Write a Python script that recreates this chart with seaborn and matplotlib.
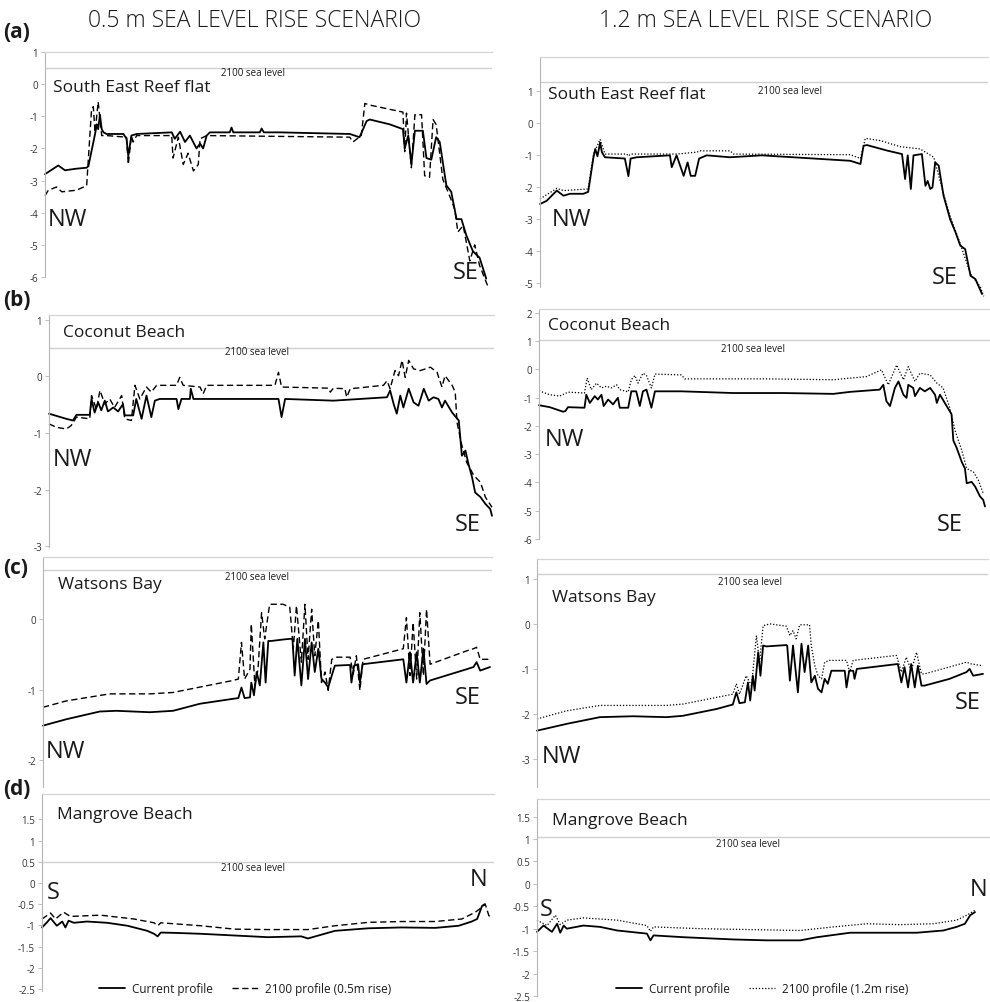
import matplotlib
matplotlib.use("Agg")
import matplotlib.pyplot as plt
import seaborn as sns
import pandas as pd

# Profile elevations (m) against distance along transect (% of transect length)
# (a) South East Reef flat, 0.5 m scenario
AL_CUR_X = [0, 3.0, 4.5, 7.1, 9.4, 9.8, 11.3, 11.7, 12.0, 12.4, 12.8, 13.2, 13.9, 17.7, 18.4, 18.8, 19.5, 20.7,
            28.6, 29.3, 30.5, 31.6, 32.7, 34.2, 35.0, 35.7, 36.5, 37.2, 41.7, 42.1, 42.5, 48.5, 48.9, 49.4, 53.0,
            68.8, 71.0, 72.6, 73.3, 77.8, 80.8, 81.2, 82.0, 82.7, 83.5, 85.3, 86.1, 87.2, 88.3, 89.1,
            90.6, 91.7, 92.9, 94.0, 95.1, 96.6, 98.1, 99.6]
AL_CUR = [-2.8, -2.53, -2.68, -2.63, -2.6, -2.55, -1.55, -1.25, -1.4, -0.95, -1.4, -1.5, -1.55, -1.55, -1.7, -2.24,
          -1.6, -1.55, -1.5, -1.7, -1.48, -1.8, -1.6, -2.0, -1.85, -2.0, -1.6, -1.5, -1.5, -1.35, -1.5, -1.5, -1.38,
          -1.5, -1.5, -1.55, -1.65, -1.15, -1.1, -1.25, -1.4, -2.0, -1.6, -2.5, -1.45, -1.45, -2.3, -2.35, -1.65,
          -1.8, -3.15, -3.35, -4.2, -4.2, -4.7, -5.2, -5.4, -6.05]
AL_FUT_X = [0, 0.75, 2.6, 3.8, 7.1, 9.4, 10.5, 10.9, 11.3, 12.0, 12.8, 13.9, 18.4, 18.8, 19.5, 19.9, 20.7,
            28.6, 28.9, 30.1, 31.2, 32.3, 33.5, 34.6, 35.0, 36.5, 68.8, 69.5, 71.4, 72.2, 73.3,
            80.1, 80.8, 81.2, 81.6, 82.7, 83.5, 85.0, 85.7, 86.8, 87.6, 88.3, 89.8,
            91.7, 92.5, 93.2, 94.4, 95.9, 97.0, 98.1, 100]
AL_FUT = [-3.47, -3.3, -3.2, -3.35, -3.3, -3.16, -0.8, -0.7, -1.5, -0.55, -1.6, -1.6, -1.65, -2.5, -1.6, -1.8, -1.6,
          -1.6, -2.3, -1.65, -2.5, -2.15, -2.7, -2.5, -1.7, -1.6, -1.65, -1.8, -1.6, -0.6, -0.65,
          -0.85, -0.87, -2.1, -0.9, -2.6, -0.95, -0.95, -2.85, -2.9, -1.1, -1.26, -2.96,
          -3.6, -3.9, -4.6, -4.4, -5.5, -5.0, -5.64, -6.3]

# (a) South East Reef flat, 1.2 m scenario
AR_CUR_X = [0, 1.5, 3.8, 5.3, 6.8, 9.8, 10.9, 12.1, 12.5, 13.0, 13.6, 14.0, 14.7, 19.2, 20.0, 20.5, 21.9,
            29.4, 29.8, 30.9, 32.5, 33.4, 34.1, 35.1, 36.0, 37.7, 43.0, 50.2, 70.2, 72.5, 73.2, 74.0, 78.5,
            81.9, 82.6, 83.2, 83.9, 84.5, 86.4, 87.2, 87.7, 88.3, 88.8, 89.4, 90.2, 91.3,
            92.8, 94.0, 95.1, 96.2, 97.4, 98.5, 100]
AR_CUR = [-2.52, -2.42, -2.1, -2.26, -2.2, -2.2, -2.14, -1.06, -0.8, -1.03, -0.6, -0.9, -1.06, -1.1, -1.65, -1.1,
          -1.06, -1.0, -1.37, -1.0, -1.64, -1.22, -1.64, -1.64, -1.1, -1.0, -1.06, -1.0, -1.17, -1.27, -0.7, -0.68,
          -0.85, -0.96, -1.74, -1.0, -2.05, -1.0, -0.96, -1.95, -1.8, -2.05, -2.0, -1.22, -1.32, -2.26,
          -3.0, -3.4, -3.82, -3.93, -4.76, -4.86, -5.33]
AR_FUT_X = [0, 3.8, 5.3, 10.9, 12.1, 13.6, 14.7, 19.6, 20.0, 20.5, 21.9, 30.9, 35.5, 36.2, 43.0, 43.8,
            70.2, 72.5, 73.6, 77.0, 81.5, 86.0, 89.1, 91.3, 92.8, 95.1, 97.4, 99.6, 100.4]
AR_FUT = [-2.36, -2.03, -2.1, -2.05, -0.96, -0.5, -0.96, -0.96, -1.02, -0.96, -0.96, -0.96, -0.9, -0.86, -0.86,
          -0.96, -0.98, -1.1, -0.47, -0.54, -0.73, -0.8, -1.06, -2.2, -2.9, -3.77, -4.7, -5.1, -5.4]

# (b) Coconut Beach, 0.5 m scenario
BL_CUR_X = [0, 3.9, 5.4, 6.2, 9.2, 9.6, 10.3, 11.1, 11.8, 12.6, 13.3, 14.5, 15.6, 16.7, 17.1, 19.0, 19.7, 20.9,
            22.0, 23.1, 23.9, 25.0, 28.8, 29.2, 29.9, 31.8, 32.0, 32.6, 51.8, 52.5, 53.3, 64.2,
            76.3, 77.0, 77.8, 78.5, 79.3, 80.0, 81.2, 82.3, 83.4, 84.6, 85.7, 86.8, 87.9, 88.7, 89.4, 91.0, 92.5,
            93.2, 94.0, 94.7, 95.5, 96.2, 97.4, 98.5, 99.6, 100]
BL_CUR = [-0.66, -0.75, -0.78, -0.68, -0.68, -0.4, -0.64, -0.46, -0.6, -0.43, -0.62, -0.55, -0.62, -0.49, -0.69,
          -0.69, -0.4, -0.75, -0.34, -0.72, -0.43, -0.4, -0.4, -0.58, -0.4, -0.4, -0.22, -0.4, -0.4, -0.72, -0.4,
          -0.43, -0.37, -0.25, -0.49, -0.66, -0.34, -0.55, -0.22, -0.46, -0.52, -0.22, -0.43, -0.37, -0.4, -0.55,
          -0.43, -0.64, -0.78, -1.4, -1.31, -1.55, -1.78, -2.05, -2.13, -2.25, -2.34, -2.46]
BL_FUT_X = [0, 1.7, 3.9, 5.0, 6.2, 9.2, 9.6, 10.7, 11.5, 12.6, 13.7, 14.8, 16.4, 17.1, 18.6, 19.4, 20.5, 22.0,
            23.1, 24.3, 28.8, 29.5, 30.3, 34.1, 34.8, 35.6, 51.0, 51.8, 52.5, 63.1, 63.5, 64.2, 66.8, 67.2, 68.0,
            75.5, 76.3, 77.0, 78.1, 78.9, 79.7, 80.4, 81.2, 82.3, 83.8, 86.1, 87.6, 88.7, 89.4,
            91.0, 91.7, 92.1, 93.2, 94.3, 95.9, 97.4, 98.5, 100]
BL_FUT = [-0.84, -0.9, -0.93, -0.87, -0.72, -0.75, -0.34, -0.58, -0.25, -0.49, -0.4, -0.55, -0.34, -0.75, -0.78,
          -0.16, -0.4, -0.19, -0.28, -0.16, -0.16, -0.02, -0.16, -0.19, -0.31, -0.16, -0.16, 0.07, -0.19,
          -0.21, -0.28, -0.21, -0.22, -0.37, -0.22, -0.16, -0.08, -0.22, 0.1, 0.01, 0.28, -0.02, 0.28, 0.13, 0.1,
          0.16, 0.07, -0.19, 0.01, -0.16, -0.28, -0.81, -1.22, -1.52, -1.75, -1.87, -2.13, -2.31]

# (b) Coconut Beach, 1.2 m scenario
BR_CUR_X = [0, 2.4, 5.4, 5.9, 6.5, 10.2, 10.6, 11.4, 12.5, 13.2, 14.0, 14.5, 15.5, 16.6, 17.7, 18.1,
            20.0, 20.7, 21.8, 22.6, 23.3, 24.1, 25.2, 26.0, 31.9, 43.5, 54.7, 66.0, 69.7,
            76.4, 77.2, 77.9, 78.7, 79.8, 80.6, 81.7, 82.4, 82.8, 83.9, 84.3, 85.4, 86.5, 87.7, 88.8, 89.2, 89.9,
            91.4, 92.5, 92.9, 93.6, 94.8, 95.5, 95.9, 97.0, 97.8, 98.9, 99.6, 100]
BR_CUR = [-1.27, -1.34, -1.5, -1.48, -1.34, -1.36, -0.9, -1.19, -0.95, -1.07, -0.9, -1.3, -1.07, -1.24, -1.01,
          -1.36, -1.36, -0.78, -0.78, -1.3, -0.78, -0.72, -1.36, -0.78, -0.78, -0.84, -0.84, -0.87, -0.8,
          -0.72, -0.55, -1.13, -1.3, -0.66, -0.43, -0.9, -1.01, -0.55, -0.66, -0.95, -0.66, -0.78, -0.66, -0.9,
          -1.19, -0.9, -1.3, -1.59, -2.52, -2.76, -3.28, -3.51, -4.03, -3.98, -4.15, -4.5, -4.62, -4.85]
BR_FUT_X = [0, 2.4, 4.6, 6.5, 10.2, 10.8, 11.7, 12.9, 14.0, 15.1, 16.2, 17.4, 18.1, 20.0, 20.7, 21.5, 22.2,
            23.3, 24.1, 25.2, 26.0, 31.9, 32.7, 51.0, 66.0, 73.4, 76.8, 78.3, 80.2, 81.7, 82.8, 84.3, 85.4,
            87.7, 89.2, 90.6, 92.1, 93.3, 94.8, 95.9, 97.4, 98.5, 99.6]
BR_FUT = [-0.76, -0.9, -0.95, -0.81, -0.84, -0.31, -0.72, -0.49, -0.66, -0.6, -0.66, -0.55, -0.72, -0.8, -0.37,
          -0.22, -0.49, -0.14, -0.22, -0.66, -0.17, -0.2, -0.34, -0.34, -0.37, -0.26, -0.02, -0.55, 0.15, -0.37,
          0.09, -0.43, -0.14, -0.2, -0.49, -0.66, -1.36, -2.17, -2.87, -3.51, -3.63, -3.92, -4.38]

# (c) Watsons Bay, 0.5 m scenario
CL_CUR_X = [0, 5.2, 12.7, 16.4, 23.9, 29.1, 35.1, 42.5, 43.7, 44.4, 45.1, 46.3, 46.6, 47.2, 47.8, 48.5, 49.3,
            49.8, 50.4, 51.1, 53.7, 55.2, 55.8, 56.3, 56.9, 57.8, 58.6, 59.3, 60.1, 60.8, 61.6, 62.3, 63.1, 63.8,
            64.6, 65.3, 68.7, 69.0, 69.6, 70.5, 70.9, 71.5, 80.6, 81.3, 82.1, 82.8, 83.6, 84.3, 85.1, 85.8, 86.6,
            94.8, 96.3, 97.0, 97.8, 100]
CL_CUR = [-1.51, -1.42, -1.31, -1.3, -1.32, -1.3, -1.2, -1.13, -1.12, -0.97, -1.12, -1.11, -0.9, -1.08, -0.75,
          -0.94, -0.33, -0.9, -0.31, -0.31, -0.29, -0.28, -0.28, -0.8, -0.28, -0.94, -0.28, -0.85, -0.33, -0.75,
          -0.42, -0.85, -0.9, -0.97, -0.8, -0.66, -0.65, -0.9, -0.66, -0.64, -0.9, -0.64, -0.57, -0.9, -0.47,
          -0.9, -0.47, -0.9, -0.42, -0.92, -0.87, -0.71, -0.68, -0.61, -0.73, -0.68]
CL_FUT_X = [0, 5.2, 14.9, 23.9, 29.1, 42.5, 43.7, 44.4, 45.1, 46.3, 46.6, 47.4, 48.1, 48.9, 49.6, 50.7,
            53.7, 55.2, 56.0, 56.7, 57.8, 58.6, 59.3, 60.1, 60.8, 61.6, 62.3, 63.1, 63.8, 64.6, 65.7,
            68.7, 69.4, 70.1, 70.9, 71.6, 80.6, 81.3, 82.1, 82.8, 83.6, 84.3, 85.1, 85.8, 86.6,
            94.8, 96.3, 97.0, 97.8, 100]
CL_FUT = [-1.25, -1.16, -1.06, -1.06, -1.04, -0.87, -0.85, -0.33, -0.85, -0.71, -0.07, -0.94, -0.71, 0.09, -0.28,
          0.21, 0.21, 0.17, -0.42, 0.19, -0.61, 0.21, -0.57, 0.14, -0.52, -0.02, -0.9, -0.75, -1.01, -0.57, -0.54,
          -0.54, -0.78, -0.52, -1.01, -0.57, -0.42, 0.02, -0.8, -0.05, -0.85, 0.09, -0.8, 0.14, -0.64,
          -0.45, -0.42, -0.4, -0.57, -0.57]

# (c) Watsons Bay, 1.2 m scenario
CR_CUR_X = [0, 6.6, 14.1, 21.5, 29.0, 32.7, 40.2, 43.9, 44.7, 45.4, 46.6, 47.3, 47.8, 48.4, 48.8, 49.6, 50.1,
            50.7, 51.4, 55.9, 56.1, 56.7, 57.4, 58.5, 59.3, 60.0, 60.8, 61.5, 62.3, 63.0, 63.8, 64.5, 65.2, 66.0,
            69.0, 69.4, 70.0, 70.9, 71.2, 71.7, 80.9, 81.7, 82.4, 83.2, 83.9, 84.7, 85.4, 86.2, 86.9,
            92.5, 96.3, 97.0, 97.8, 100]
CR_CUR = [-2.37, -2.22, -2.07, -2.05, -2.07, -2.04, -1.89, -1.79, -1.52, -1.76, -1.74, -1.3, -1.7, -1.15, -1.48,
          -0.63, -1.15, -0.48, -0.5, -0.47, -0.48, -1.26, -0.48, -1.52, -0.44, -1.07, -0.48, -1.3, -1.15, -1.44,
          -1.52, -1.22, -1.33, -1.04, -1.04, -1.41, -1.04, -1.04, -1.22, -1.0, -0.89, -1.3, -0.96, -1.41, -0.89,
          -1.41, -0.93, -1.37, -1.37, -1.22, -1.07, -1.0, -1.15, -1.11]
CR_FUT_X = [0, 6.6, 14.1, 29.0, 32.7, 43.9, 44.7, 45.4, 46.9, 48.1, 49.2, 49.9, 50.7, 52.2, 55.9, 56.7, 57.4,
            58.1, 58.9, 61.1, 61.5, 62.3, 63.0, 63.8, 64.5, 65.6, 69.4, 70.1, 70.9, 80.6, 81.7, 82.8, 83.9, 85.1,
            86.2, 86.9, 96.3, 97.4, 100]
CR_FUT = [-2.11, -1.93, -1.81, -1.81, -1.78, -1.56, -1.33, -1.56, -1.15, -1.37, -0.26, -0.85, -0.04, 0.0, -0.05,
          -0.26, -0.15, -0.33, -0.02, -0.02, -0.48, -0.93, -1.15, -1.22, -0.85, -0.81, -0.81, -1.07, -0.81, -0.7,
          -1.07, -0.74, -1.04, -0.63, -1.11, -1.11, -0.85, -0.89, -0.93]

# (d) Mangrove Beach, 0.5 m scenario
DL_CUR_X = [0, 1.1, 1.9, 3.3, 4.5, 5.2, 5.9, 7.1, 10.0, 14.5, 19.0, 23.4, 24.9, 25.7, 26.4, 30.1, 35.3, 42.8,
            50.2, 57.6, 59.1, 65.1, 72.5, 79.9, 87.4, 92.6, 95.5, 96.7, 97.8, 98.4]
DL_CUR = [-1.05, -0.93, -0.83, -1.01, -0.91, -1.05, -0.89, -0.94, -0.91, -0.94, -1.01, -1.13, -1.2, -1.26, -1.17,
          -1.18, -1.2, -1.24, -1.28, -1.26, -1.31, -1.13, -1.07, -1.05, -1.06, -1.01, -0.91, -0.85, -0.54, -0.5]
DL_FUT_X = [0, 1.1, 1.9, 3.0, 4.8, 6.3, 13.0, 20.4, 24.9, 25.7, 26.4, 35.3, 42.8, 50.2, 59.1, 65.1, 72.5, 79.9,
            87.4, 93.3, 96.3, 97.8, 98.5, 99.3, 100]
DL_FUT = [-0.85, -0.77, -0.71, -0.85, -0.69, -0.79, -0.76, -0.85, -0.94, -1.01, -0.94, -1.01, -1.09, -1.1, -1.1,
          -1.01, -0.93, -0.91, -0.91, -0.85, -0.69, -0.57, -0.5, -0.77, -0.83]

# (d) Mangrove Beach, 1.2 m scenario
DR_CUR_X = [0, 1.5, 3.4, 4.6, 5.3, 6.1, 6.8, 10.6, 14.4, 18.3, 25.1, 25.9, 26.6, 33.5, 44.9, 52.5, 60.1, 63.9,
            71.5, 79.1, 86.7, 92.8, 95.8, 97.7, 98.9, 100]
DR_CUR = [-1.07, -0.93, -1.07, -0.89, -1.09, -0.93, -1.0, -0.93, -0.96, -1.04, -1.11, -1.26, -1.15, -1.19, -1.24,
          -1.26, -1.26, -1.19, -1.09, -1.09, -1.09, -1.04, -0.96, -0.89, -0.7, -0.63]
DR_FUT_X = [0, 2.3, 4.2, 5.3, 6.8, 10.6, 18.3, 25.1, 25.9, 26.6, 37.3, 60.1, 67.7, 75.3, 82.9, 90.5, 95.8,
            98.1, 100]
DR_FUT = [-0.81, -0.93, -0.7, -0.91, -0.81, -0.76, -0.81, -0.93, -1.06, -0.96, -1.0, -1.04, -0.96, -0.89, -0.91,
          -0.89, -0.81, -0.7, -0.59]

SITES = ["South East Reef flat", "Coconut Beach", "Watsons Bay", "Mangrove Beach"]
SCENARIOS = ["0.5 m SEA LEVEL RISE SCENARIO", "1.2 m SEA LEVEL RISE SCENARIO"]
FUT_LABELS = ["2100 profile (0.5m rise)", "2100 profile (1.2m rise)"]
# 2100 sea level line as drawn in each panel (a-left, a-right, b-left, ...)
SEA_LEVEL = [0.5, 1.3, 0.5, 1.05, 0.7, 1.1, 0.5, 1.05]

sns.set_theme(style="white")
plt.rcParams["font.family"] = ["Open Sans", "DejaVu Sans"]
plt.rcParams["axes.unicode_minus"] = False

W, H = 990, 1003
fig = plt.figure(figsize=(W / 100, H / 100), dpi=100)


def px_box(x0, y0, x1, y1):
    return [x0 / W, 1 - y1 / H, (x1 - x0) / W, (y1 - y0) / H]


def ftext(x, y, s, **kw):
    kw.setdefault("va", "center")
    fig.text(x / W, 1 - y / H, s, color="#1a1a1a", **kw)


# layout: axes box in px, x pixel where data ends, y limits, tick values
panels = [
    (AL_CUR_X, AL_CUR, AL_FUT_X, AL_FUT, (45, 53, 492, 278), 488, (-5.99, 0.97), [1, 0, -1, -2, -3, -4, -5, -6]),
    (AR_CUR_X, AR_CUR, AR_FUT_X, AR_FUT, (540, 58, 988, 288), 982, (-5.11, 2.07), [1, 0, -1, -2, -3, -4, -5]),
    (BL_CUR_X, BL_CUR, BL_FUT_X, BL_FUT, (49, 316, 494, 548), 492, (-3.01, 1.08), [1, 0, -1, -2, -3]),
    (BR_CUR_X, BR_CUR, BR_FUT_X, BR_FUT, (539, 310, 990, 540), 985, (-5.9, 2.13), [2, 1, 0, -1, -2, -3, -4, -5, -6]),
    (CL_CUR_X, CL_CUR, CL_FUT_X, CL_FUT, (43, 558, 492, 788), 490, (-2.38, 0.88), [0, -1, -2]),
    (CR_CUR_X, CR_CUR, CR_FUT_X, CR_FUT, (537, 560, 988, 788), 983, (-3.62, 1.44), [1, 0, -1, -2, -3]),
    (DL_CUR_X, DL_CUR, DL_FUT_X, DL_FUT, (42, 795, 494, 992), 492, (-2.55, 2.1),
     [1.5, 1, 0.5, 0, -0.5, -1, -1.5, -2, -2.5]),
    (DR_CUR_X, DR_CUR, DR_FUT_X, DR_FUT, (537, 800, 990, 997), 975, (-2.49, 1.89),
     [1.5, 1, 0.5, 0, -0.5, -1, -1.5, -2, -2.5]),
]

axes = []
for i, (cx, cy, fx, fy, bx, xend, ylim, ticks) in enumerate(panels):
    col = i % 2
    ax = fig.add_axes(px_box(*bx))
    axes.append(ax)
    fut_style = (0, (4.5, 2.5)) if col == 0 else (0, (1, 1.5))
    cur_df = pd.DataFrame({"dist": cx, "elev": cy})
    fut_df = pd.DataFrame({"dist": fx, "elev": fy})
    ax.axhline(SEA_LEVEL[i], color="#cfcfcf", lw=1.0, zorder=1)
    sns.lineplot(data=cur_df, x="dist", y="elev", ax=ax, color="black", lw=1.3,
                 estimator=None, sort=False, legend=False, label="Current profile", clip_on=False)
    sns.lineplot(data=fut_df, x="dist", y="elev", ax=ax, color="black", lw=1.0 if col == 0 else 0.9,
                 linestyle=fut_style, estimator=None, sort=False, legend=False,
                 label=FUT_LABELS[col], clip_on=False)
    ax.set_xlim(0, 100 * (bx[2] - bx[0]) / (xend - bx[0]))
    ax.set_ylim(*ylim)
    ax.set_yticks(ticks)
    ax.set_yticklabels([f"{t:g}" for t in ticks])
    ax.set_xticks([])
    ax.set_xlabel("")
    ax.set_ylabel("")
    ax.set_facecolor("none")
    for s in ["right", "bottom"]:
        ax.spines[s].set_visible(False)
    ax.spines["left"].set_color("#b5b5b5")
    ax.spines["left"].set_linewidth(0.8)
    ax.spines["top"].set_color("#d4d4d4")
    ax.spines["top"].set_linewidth(0.9)
    ax.tick_params(axis="y", left=True, length=3, width=0.6, color="#b5b5b5",
                   labelsize=7, pad=2, labelcolor="#333333")

# column titles and panel letters
ftext(255, 21, SCENARIOS[0], ha="center", fontsize=16.5, fontweight="light")
ftext(766, 21, SCENARIOS[1], ha="center", fontsize=16.5, fontweight="light")
for lab, y in zip(["(a)", "(b)", "(c)", "(d)"], [33, 300, 569, 790]):
    ftext(3, y, lab, ha="left", fontsize=15, fontweight="bold")

# site names, sea level labels, compass directions
site_pos = [(53, 88), (548, 95), (63, 333), (548, 326), (58, 585), (552, 598), (57, 815), (552, 821)]
sea_pos = [(253, 73), (790, 92), (257, 353), (753, 349), (257, 577), (750, 583), (253, 869), (748, 845)]
for i in range(8):
    ftext(*site_pos[i], SITES[i // 2], ha="left", fontsize=12.5)
    ftext(*sea_pos[i], "2100 sea level", ha="center", fontsize=7)

ends = [("NW", 48, 220, "SE", 453, 273), ("NW", 552, 220, "SE", 932, 278),
        ("NW", 53, 460, "SE", 455, 525), ("NW", 545, 440, "SE", 937, 525),
        ("NW", 46, 752, "SE", 455, 698), ("NW", 542, 757, "SE", 955, 703),
        ("S", 47, 893, "N", 470, 880), ("S", 540, 910, "N", 970, 890)]
for a, ax_, ay, b, bx_, by in ends:
    ftext(ax_, ay, a, ha="left", fontsize=17)
    ftext(bx_, by, b, ha="left", fontsize=17)

# legends
for ax, cx in [(axes[6], 245 / W), (axes[7], 762 / W)]:
    h, l = ax.get_legend_handles_labels()
    leg = ax.legend(h, l, loc="center", bbox_to_anchor=(cx, 1 - 990 / H), bbox_transform=fig.transFigure,
                    ncol=2, frameon=False, fontsize=8.5, handlelength=2.2, columnspacing=1.6, handletextpad=0.6)
    for t in leg.get_texts():
        t.set_color("#1a1a1a")

fig.savefig("out.png", dpi=100, facecolor="white")
